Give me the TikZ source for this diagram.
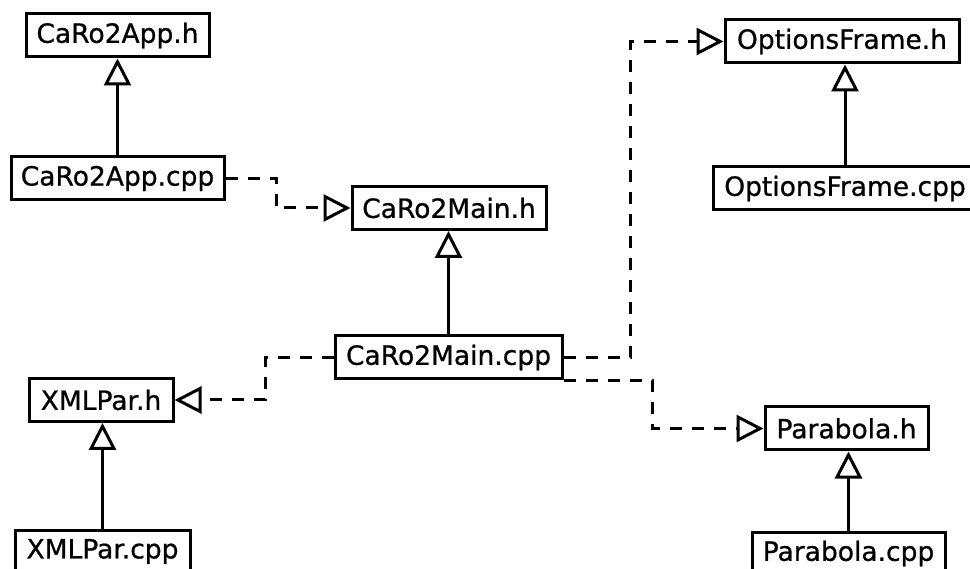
\documentclass[tikz,border=0pt]{standalone}
\usepackage{fontspec}
\setmainfont{DejaVu Sans}
\newfontfamily\filefont{DejaVu Sans}[FakeBold=0.8, AutoFakeBold=0.8]
\usetikzlibrary{arrows.meta}
\tikzset{
  file/.style={draw, line width=3pt, rectangle, inner sep=0pt,
    minimum height=43pt, fill=white,
    font=\filefont\bfseries\fontsize{26.5}{30}\selectfont},
  inherit/.style={line width=3pt,
    -{Triangle[open, length=27pt, width=27pt, line width=3pt]}},
  uses/.style={inherit, dash pattern=on 12pt off 10pt}
}
\begin{document}
\begin{tikzpicture}[x=1pt, y=-1pt]
  \useasboundingbox (0,0) rectangle (970,569);
  % files
  \node[file, minimum width=183pt] (apph)    at (117.5, 35.5)  {CaRo2App.h};
  \node[file, minimum width=213pt] (appcpp)  at (117.5, 178.5) {CaRo2App.cpp};
  \node[file, minimum width=194pt] (mainh)   at (449, 208)     {CaRo2Main.h};
  \node[file, minimum width=227pt] (maincpp) at (448.5, 357.5) {CaRo2Main.cpp};
  \node[file, minimum width=144pt] (xmlh)    at (101, 400)     {XMLPar.h};
  \node[file, minimum width=175pt] (xmlcpp)  at (102.5, 551.5) {XMLPar.cpp};
  \node[file, minimum width=234pt] (optsh)   at (842, 41.5)    {OptionsFrame.h};
  \node[file, minimum width=264pt] (optscpp) at (845, 188.5)   {OptionsFrame.cpp};
  \node[file, minimum width=163pt] (parh)    at (846.5, 428.5) {Parabola.h};
  \node[file, minimum width=193pt] (parcpp)  at (848.5, 553.5) {Parabola.cpp};
  % implementation of headers
  \draw[inherit] (appcpp.north)  -- (appcpp.north  |- apph.south);
  \draw[inherit] (maincpp.north) -- (maincpp.north |- mainh.south);
  \draw[inherit] (xmlcpp.north)  -- (xmlcpp.north  |- xmlh.south);
  \draw[inherit] (optscpp.north) -- (optscpp.north |- optsh.south);
  \draw[inherit] (parcpp.north)  -- (parcpp.north  |- parh.south);
  % includes
  \coordinate (c1) at (276, 0);
  \coordinate (c2) at (265, 0);
  \coordinate (c3) at (630, 0);
  \coordinate (c4) at (652, 0);
  \draw[uses] (appcpp.east) -| (c1 |- mainh.west) -- (mainh.west);
  \draw[uses] (maincpp.west) -| (c2 |- xmlh.east) -- (xmlh.east);
  \draw[uses] (maincpp.east) -| (c3 |- optsh.west) -- (optsh.west);
  \draw[uses] (maincpp.south east) -| (c4 |- parh.west) -- (parh.west);
\end{tikzpicture}
\end{document}
